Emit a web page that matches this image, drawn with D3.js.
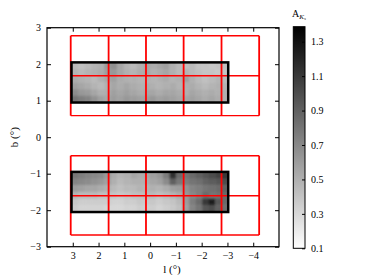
<!DOCTYPE html>
<html><head><meta charset="utf-8">
<script src="https://cdn.jsdelivr.net/npm/d3@7"></script>
<style>
body{margin:0;background:#fff;}
svg{display:block;font-family:"Liberation Serif","DejaVu Serif",serif;}
</style></head>
<body><svg id="c" width="375" height="275"></svg>
<script>
// ---- data ----
const xTicks = [3, 2, 1, 0, -1, -2, -3, -4];
const yTicks = [-3, -2, -1, 0, 1, 2, 3];
const cbTicks = [0.1, 0.3, 0.5, 0.7, 0.9, 1.1, 1.3];
const cbRange = [0.1, 1.387];
// red tile grid edges (l, b)
const tileL = [3.08, 1.61, 0.16, -1.30, -2.77, -4.23];
const tileBTop = [2.78, 1.685, 0.59];
const tileBBot = [-0.507, -1.603, -2.68];
// extinction map extents
const mapL = [3.05, -3.03];
const mapBTop = [2.05, 0.95];
const mapBBot = [-0.95, -2.05];
// A_Ks map values, rows from top (high b) to bottom, columns from l=3 to l=-3
const extTop = [
 [0.45,0.42,0.45,0.48,0.50,0.62,0.66,0.55,0.48,0.45,0.50,0.55,0.52,0.55,0.58,0.50,0.45,0.42,0.45,0.40,0.40,0.38,0.40,0.42],
 [0.48,0.45,0.48,0.50,0.52,0.60,0.62,0.55,0.50,0.48,0.52,0.55,0.50,0.52,0.55,0.50,0.45,0.48,0.45,0.42,0.40,0.40,0.38,0.40],
 [0.52,0.50,0.48,0.45,0.50,0.55,0.58,0.52,0.50,0.50,0.48,0.50,0.48,0.50,0.52,0.48,0.50,0.58,0.50,0.45,0.42,0.45,0.48,0.45],
 [0.58,0.55,0.52,0.48,0.45,0.50,0.55,0.52,0.55,0.52,0.50,0.52,0.50,0.48,0.50,0.52,0.48,0.50,0.52,0.48,0.45,0.48,0.50,0.48],
 [0.68,0.62,0.60,0.55,0.50,0.52,0.58,0.55,0.58,0.55,0.52,0.55,0.55,0.52,0.55,0.55,0.52,0.50,0.55,0.52,0.50,0.52,0.50,0.50],
 [0.80,0.75,0.72,0.65,0.58,0.55,0.60,0.58,0.62,0.60,0.58,0.60,0.62,0.58,0.60,0.58,0.55,0.55,0.58,0.55,0.52,0.55,0.52,0.50]
];
const extBot = [
 [0.78,0.75,0.72,0.70,0.68,0.62,0.52,0.48,0.50,0.55,0.52,0.55,0.58,0.62,0.75,1.15,0.85,0.80,0.85,0.90,0.95,1.00,1.05,1.10],
 [0.72,0.70,0.68,0.65,0.62,0.58,0.50,0.45,0.48,0.50,0.50,0.52,0.55,0.58,0.68,0.90,0.78,0.75,0.80,0.82,0.88,0.92,0.95,1.00],
 [0.60,0.58,0.55,0.55,0.52,0.50,0.45,0.42,0.45,0.45,0.48,0.48,0.50,0.48,0.52,0.58,0.60,0.65,0.72,0.75,0.80,0.82,0.85,0.90],
 [0.48,0.45,0.45,0.45,0.42,0.42,0.40,0.38,0.40,0.42,0.42,0.45,0.45,0.42,0.45,0.48,0.52,0.62,0.70,0.75,0.85,0.80,0.82,0.85],
 [0.38,0.35,0.35,0.35,0.35,0.35,0.32,0.32,0.35,0.35,0.38,0.38,0.38,0.35,0.38,0.40,0.45,0.60,0.75,0.85,1.10,1.25,0.95,0.85],
 [0.35,0.32,0.32,0.32,0.32,0.30,0.30,0.30,0.32,0.32,0.35,0.35,0.35,0.32,0.35,0.38,0.42,0.58,0.72,0.80,0.95,1.00,0.90,0.82]
];

// ---- layout ----
const svg = d3.select("#c");
const P = {l: 47, r: 279, t: 27.7, b: 246.7};
const x = d3.scaleLinear().domain([4, -5]).range([P.l, P.r]);
const y = d3.scaleLinear().domain([-3, 3]).range([P.b, P.t]);
const col = d3.scaleLinear().domain(cbRange).range(["#ffffff", "#000000"]).clamp(true);
const fmt = d => (d < 0 ? "\u2212" + Math.abs(d) : String(d));
const defs = svg.append("defs");
defs.append("filter").attr("id", "soft").attr("x", "-5%").attr("y", "-10%").attr("width", "110%").attr("height", "120%")
  .append("feGaussianBlur").attr("stdDeviation", 0.9);

function drawMap(grid, bRange, id) {
  const nr = grid.length, nc = grid[0].length;
  const lc = d3.scaleLinear().domain([0, nc]).range(mapL);
  const br = d3.scaleLinear().domain([0, nr]).range(bRange);
  defs.append("clipPath").attr("id", id).append("rect")
    .attr("x", x(mapL[0])).attr("y", y(bRange[0]))
    .attr("width", x(mapL[1]) - x(mapL[0])).attr("height", y(bRange[1]) - y(bRange[0]));
  const g = svg.append("g").attr("clip-path", `url(#${id})`).append("g").attr("filter", "url(#soft)");
  grid.forEach((row, i) => row.forEach((v, j) => {
    const x0 = x(lc(j)), x1 = x(lc(j + 1));
    const y0 = y(br(i)), y1 = y(br(i + 1));
    const ex0 = j === 0 ? 4 : 0, ex1 = j === nc - 1 ? 4 : 0;
    const ey0 = i === 0 ? 4 : 0, ey1 = i === nr - 1 ? 4 : 0;
    g.append("rect").attr("x", x0 - ex0).attr("y", y0 - ey0)
      .attr("width", x1 - x0 + 0.4 + ex0 + ex1).attr("height", y1 - y0 + 0.4 + ey0 + ey1)
      .attr("fill", col(v));
  }));
}
function drawTiles(bEdges) {
  const g = svg.append("g").attr("stroke", "#ff0000").attr("fill", "none");
  bEdges.forEach(b => g.append("line").attr("y1", y(b)).attr("y2", y(b))
    .attr("x1", x(tileL[0])).attr("x2", x(tileL[tileL.length - 1])).attr("stroke-width", 1.4));
  tileL.forEach(l => g.append("line").attr("x1", x(l)).attr("x2", x(l))
    .attr("y1", y(bEdges[0])).attr("y2", y(bEdges[bEdges.length - 1])).attr("stroke-width", 1.8));
}
function drawFrame(bRange) {
  svg.append("rect").attr("x", x(mapL[0])).attr("y", y(bRange[0]))
    .attr("width", x(mapL[1]) - x(mapL[0])).attr("height", y(bRange[1]) - y(bRange[0]))
    .attr("fill", "none").attr("stroke", "#000").attr("stroke-width", 2.5);
}

drawMap(extTop, mapBTop, "clipTop");
drawMap(extBot, mapBBot, "clipBot");
drawTiles(tileBTop);
drawTiles(tileBBot);
drawFrame(mapBTop);
drawFrame(mapBBot);

// axes (ticks inward, mirrored)
const ax = svg.append("g").attr("font-size", 10);
ax.append("g").attr("transform", `translate(0,${P.b})`)
  .call(d3.axisBottom(x).tickValues(xTicks).tickSizeInner(-4).tickSizeOuter(0).tickPadding(5).tickFormat(fmt));
ax.append("g").attr("transform", `translate(0,${P.t})`)
  .call(d3.axisTop(x).tickValues(xTicks).tickSizeInner(-4).tickSizeOuter(0).tickFormat(""));
ax.append("g").attr("transform", `translate(${P.l},0)`)
  .call(d3.axisLeft(y).tickValues(yTicks).tickSizeInner(-4).tickSizeOuter(0).tickPadding(6).tickFormat(fmt));
ax.append("g").attr("transform", `translate(${P.r},0)`)
  .call(d3.axisRight(y).tickValues(yTicks).tickSizeInner(-4).tickSizeOuter(0).tickFormat(""));
ax.selectAll(".domain").remove();
ax.selectAll("text").attr("font-family", "Liberation Serif").attr("fill", "#000").attr("font-size", 10);
ax.selectAll("line").attr("stroke", "#000");
svg.append("rect").attr("x", P.l).attr("y", P.t).attr("width", P.r - P.l).attr("height", P.b - P.t)
  .attr("fill", "none").attr("stroke", "#000").attr("stroke-width", 1.2);

svg.append("text").attr("x", 172).attr("y", 272.5).attr("text-anchor", "middle")
  .attr("font-size", 11).text("l (°)");
svg.append("text").attr("transform", `translate(18,${(P.t + P.b) / 2}) rotate(-90)`)
  .attr("text-anchor", "middle").attr("font-size", 11).text("b (°)");

// colorbar
const cb = {x0: 293.3, x1: 305, t: 26.7, b: 248.3};
const cy = d3.scaleLinear().domain(cbRange).range([cb.b, cb.t]);
const grad = defs.append("linearGradient").attr("id", "cbg")
  .attr("x1", 0).attr("y1", 1).attr("x2", 0).attr("y2", 0);
grad.append("stop").attr("offset", 0).attr("stop-color", col(cbRange[0]));
grad.append("stop").attr("offset", 1).attr("stop-color", col(cbRange[1]));
svg.append("rect").attr("x", cb.x0).attr("y", cb.t).attr("width", cb.x1 - cb.x0).attr("height", cb.b - cb.t)
  .attr("fill", "url(#cbg)").attr("stroke", "#000").attr("stroke-width", 1);
const cax = svg.append("g").attr("transform", `translate(${cb.x1},0)`)
  .call(d3.axisRight(cy).tickValues(cbTicks).tickSizeInner(-3).tickSizeOuter(0).tickPadding(6).tickFormat(d3.format(".1f")));
cax.select(".domain").remove();
cax.selectAll("text").attr("font-family", "Liberation Serif").attr("font-size", 10).attr("fill", "#000");
cax.selectAll("line").attr("stroke", "#000");
const lab = svg.append("text").attr("x", 292).attr("y", 17).attr("font-size", 10);
lab.append("tspan").text("A");
lab.append("tspan").attr("font-size", 7).attr("font-style", "italic").attr("dy", 2).text("K");
lab.append("tspan").attr("font-size", 5).attr("font-style", "italic").attr("dy", 1).text("s");
</script></body></html>
